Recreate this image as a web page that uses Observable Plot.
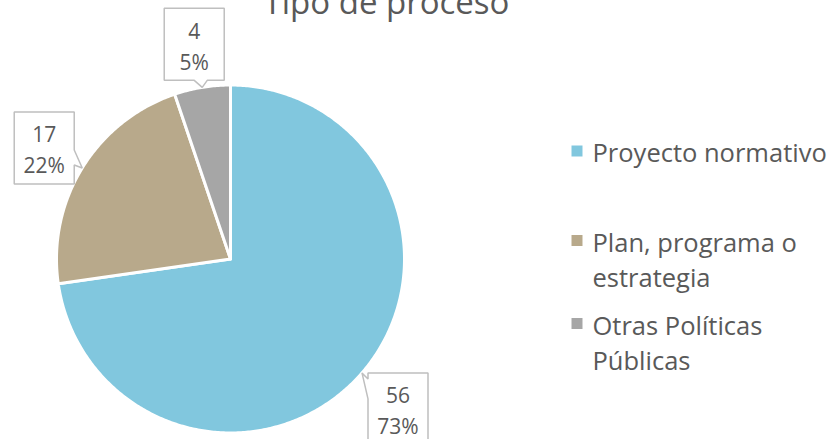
<!DOCTYPE html>
<html><head><meta charset="utf-8">
<script src="https://cdn.jsdelivr.net/npm/d3@7"></script>
<script src="https://cdn.jsdelivr.net/npm/@observablehq/plot@0.6"></script>
<style>body{margin:0;background:#fff;overflow:hidden}</style>
</head><body><div id="chart"></div>
<script>
// ---- data ----
const title = "Tipo de proceso";
const categories = ["Proyecto normativo", "Plan, programa o estrategia", "Otras Políticas Públicas"];
const values = [56, 17, 4];
const legendLabels = ["Proyecto normativo", "Plan, programa o\nestrategia", "Otras Políticas\nPúblicas"];
const colors = ["#81C7DE", "#B8A98B", "#A6A6A6"];

// ---- layout (pixels) ----
const W = 840, H = 439, CX = 230, CY = 258.5, R = 174;
const BOX_W = 60, BOX_H = 72;
const calloutSide = ["right", "left", "top"];
const legendX = 576.5, legendTextX = 592, legendY = [150.5, 240, 323];
const FS_LABEL = 21, FS_LEGEND = 25.5, FS_TITLE = 33, TEXT = "#595959";
const LH_LEGEND = 1.37;
const FONT = "'Open Sans', sans-serif";

const px2x = p => (p - CX) / R;
const px2y = p => (CY - p) / R;

const total = d3.sum(values);
const arcs = d3.pie().sort(null).value(d => d)(values);

// pie slice polygons in unit-circle coordinates
const slicePts = [];
arcs.forEach((a, i) => {
  const n = Math.max(4, Math.ceil((a.endAngle - a.startAngle) / 0.01));
  slicePts.push({cat: categories[i], x: 0, y: 0});
  for (let k = 0; k <= n; k++) {
    const t = a.startAngle + (a.endAngle - a.startAngle) * k / n;
    slicePts.push({cat: categories[i], x: Math.sin(t), y: Math.cos(t)});
  }
});

// callouts
const calloutPts = [], calloutText = [];
arcs.forEach((a, i) => {
  const m = (a.startAngle + a.endAngle) / 2;
  const tx = CX + R * Math.sin(m), ty = CY - R * Math.cos(m);
  let x0, y0, pts;
  const side = calloutSide[i];
  if (side === "top") {
    x0 = tx - 8 - BOX_W / 2; y0 = ty - 7 - BOX_H;
    const yb = y0 + BOX_H;
    pts = [[x0, y0], [x0 + BOX_W, y0], [x0 + BOX_W, yb], [tx + 5, yb], [tx, ty], [tx - 8, yb], [x0, yb]];
  } else if (side === "left") {
    x0 = tx - 8 - BOX_W; y0 = ty - 20 - BOX_H / 2;
    const xr = x0 + BOX_W;
    pts = [[x0, y0], [xr, y0], [xr, ty - 18], [tx, ty], [xr, ty - 3], [xr, y0 + BOX_H], [x0, y0 + BOX_H]];
  } else {
    x0 = tx + 6; y0 = ty;
    pts = [[x0, y0], [x0 + BOX_W, y0], [x0 + BOX_W, y0 + BOX_H], [x0, y0 + BOX_H], [x0, y0 + 26], [tx, ty], [x0, y0 + 6]];
  }
  pts.forEach(([px, py]) => calloutPts.push({id: i, x: px2x(px), y: px2y(py)}));
  calloutText.push({
    x: px2x(x0 + BOX_W / 2), y: px2y(y0 + BOX_H / 2),
    label: `${values[i]}\n${Math.round(values[i] / total * 100)}%`
  });
});

// legend
const legendData = categories.map((c, i) => {
  const nLines = legendLabels[i].split("\n").length;
  return {
    cat: c, label: legendLabels[i],
    sx: px2x(legendX), sy: px2y(legendY[i]),
    tx: px2x(legendTextX), ty: px2y(legendY[i] + (nLines - 1) / 2 * LH_LEGEND * FS_LEGEND)
  };
});

const chart = Plot.plot({
  width: W, height: H,
  margin: 0,
  style: {fontFamily: FONT, background: "#fff"},
  x: {domain: [px2x(0), px2x(W)], axis: null},
  y: {domain: [px2y(H), px2y(0)], axis: null},
  color: {domain: categories, range: colors},
  marks: [
    Plot.line(slicePts, {x: "x", y: "y", z: "cat", fill: "cat", stroke: "white", strokeWidth: 3, curve: "linear-closed", strokeLinejoin: "round"}),
    Plot.line(calloutPts, {x: "x", y: "y", z: "id", fill: "white", stroke: "#BFBFBF", strokeWidth: 1.5, curve: "linear-closed", strokeLinejoin: "miter"}),
    Plot.text(calloutText, {x: "x", y: "y", text: "label", fontSize: FS_LABEL, fill: TEXT, lineHeight: 1.48, lineAnchor: "middle"}),
    Plot.dot(legendData, {x: "sx", y: "sy", symbol: "square", r: 6.2, fill: "cat", stroke: null}),
    Plot.text(legendData, {x: "tx", y: "ty", text: "label", fontSize: FS_LEGEND, fill: TEXT, textAnchor: "start", lineHeight: LH_LEGEND, lineAnchor: "middle"}),
    Plot.text([title], {frameAnchor: "top", dx: -34, dy: 13, lineAnchor: "bottom", text: d => d, fontSize: FS_TITLE, fill: TEXT})
  ]
});
document.getElementById("chart").appendChild(chart);
</script>
</body></html>
